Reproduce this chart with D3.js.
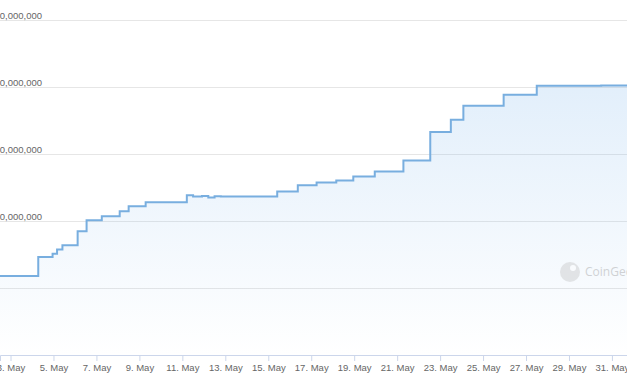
<!DOCTYPE html>
<html>
<head>
<meta charset="utf-8">
<script src="https://cdn.jsdelivr.net/npm/d3@7"></script>
<style>
  body { margin: 0; background: #fff; }
  svg { display: block; font-family: "Open Sans", sans-serif; }
</style>
</head>
<body>
<svg id="chart" width="627" height="376"></svg>
<script>
// hourly-ish readings, values in millions
var dates = ["2024-05-02T06:00","2024-05-04T07:00","2024-05-04T23:00","2024-05-05T04:00","2024-05-05T10:00",
  "2024-05-06T03:00","2024-05-06T13:00","2024-05-07T06:00","2024-05-08T02:00","2024-05-08T12:00",
  "2024-05-09T07:00","2024-05-11T05:00","2024-05-11T12:00","2024-05-11T22:00","2024-05-12T05:00",
  "2024-05-12T12:00","2024-05-12T19:00","2024-05-15T10:00","2024-05-16T09:00","2024-05-17T06:00",
  "2024-05-18T04:00","2024-05-18T23:00","2024-05-19T23:00","2024-05-21T07:00","2024-05-22T13:00",
  "2024-05-23T12:00","2024-05-24T02:00","2024-05-25T23:00","2024-05-27T12:00","2024-05-29T12:00",
  "2024-05-30T12:00","2024-05-31T12:00","2024-06-01T00:00"];
var supply = [178, 461, 513, 573, 639,
  848, 1011, 1071, 1145, 1219,
  1279, 1383, 1365, 1372, 1350,
  1370, 1366, 1442, 1532, 1576,
  1606, 1665, 1740, 1903, 2327,
  2513, 2721, 2885, 3019, 3017,
  3021, 3024, 3026];
var yTicks = [0, 1000, 2000, 3000, 4000];

var svg = d3.select("#chart"),
    width = +svg.attr("width"),
    height = +svg.attr("height");

var parse = d3.utcParse("%Y-%m-%dT%H:%M");
var data = dates.map(function(d, i) { return {date: parse(d), value: supply[i]}; });

var x = d3.scaleUtc()
    .domain([parse("2024-05-02T12:15"), parse("2024-05-31T16:50")])
    .range([0, width]);
var y = d3.scaleLinear().domain([-1000, 4000]).range([355, 20]);

// grid + y labels
var gy = svg.append("g").attr("class", "axis axis--y")
    .call(d3.axisRight(y).tickValues(yTicks).tickSize(width)
      .tickFormat(function(d) { return d3.format(",")(d * 1e6); }));
gy.select(".domain").remove();
gy.selectAll(".tick line").attr("stroke", "#e6e6e6");
var labels = gy.selectAll(".tick text")
    .attr("fill", "#666").attr("font-size", "9.5px")
    .attr("text-anchor", "start").attr("dy", "-2px").attr("y", 0);
var maxLen = d3.max(labels.nodes(), function(n) { return n.getComputedTextLength(); });
labels.attr("x", 42 - maxLen);

// area + line
var grad = svg.append("defs").append("linearGradient")
    .attr("id", "fill").attr("x1", 0).attr("y1", 0).attr("x2", 0).attr("y2", 1);
grad.append("stop").attr("offset", "0%").attr("stop-color", "#7cb5ec").attr("stop-opacity", 0.22);
grad.append("stop").attr("offset", "100%").attr("stop-color", "#7cb5ec").attr("stop-opacity", 0);

var area = d3.area().curve(d3.curveStepAfter)
    .x(function(d) { return x(d.date); })
    .y0(y.range()[0])
    .y1(function(d) { return y(d.value); });
var line = d3.line().curve(d3.curveStepAfter)
    .x(function(d) { return x(d.date); })
    .y(function(d) { return y(d.value); });

svg.append("path").datum(data).attr("d", area).attr("fill", "url(#fill)");
svg.append("path").datum(data).attr("d", line)
    .attr("fill", "none").attr("stroke", "#78aedf").attr("stroke-width", 2);

// watermark
var wm = svg.append("g").attr("opacity", 0.35);
wm.append("circle").attr("cx", 570).attr("cy", 272).attr("r", 10).attr("fill", "#bbb");
wm.append("circle").attr("cx", 573).attr("cy", 268).attr("r", 3).attr("fill", "#fff");
wm.append("text").attr("x", 585).attr("y", 276).attr("font-size", "12px")
    .attr("fill", "#888").text("CoinGecko");

// x axis
var gx = svg.append("g").attr("class", "axis axis--x")
    .attr("transform", "translate(0,355)")
    .call(d3.axisBottom(x).ticks(d3.utcDay.every(2)).tickSize(6).tickFormat(d3.utcFormat("%-d. %b")));
gx.select(".domain").attr("stroke", "#ccd6eb");
gx.selectAll(".tick line").attr("stroke", "#ccd6eb");
gx.selectAll(".tick text").attr("fill", "#666").attr("font-size", "9.5px");
</script>
</body>
</html>
